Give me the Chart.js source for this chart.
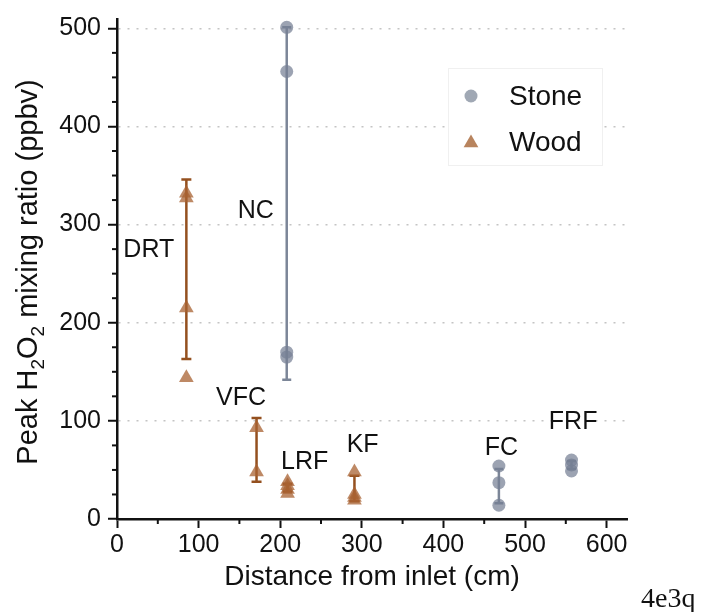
<!DOCTYPE html>
<html><head><meta charset="utf-8">
<script src="https://cdn.jsdelivr.net/npm/chart.js@4.4.1/dist/chart.umd.min.js"></script>
<style>html,body{margin:0;padding:0;background:#fff;} #wrap{position:relative;width:706px;height:612px;}</style>
</head><body><div id="wrap"><canvas id="c"></canvas></div>
<script>
// ---- data ----
const woodSites = ['DRT', 'VFC', 'LRF', 'KF'];
const woodX = [85, 171, 209, 291];
const woodValues = [[332, 327, 215, 144], [93, 48], [38, 34, 30, 26], [48, 25, 22, 19]];
const woodErrLow = [163, 38, 28, 18];
const woodErrHigh = [346, 103, 36, 44];

const stoneSites = ['NC', 'FC', 'FRF'];
const stoneX = [208, 468, 557];
const stoneValues = [[501, 456, 170, 165], [54, 37, 14], [60, 55, 49]];
const stoneErrLow = [142, 16, 51];
const stoneErrHigh = [501, 51, 59];

const labelNames = ['DRT', 'NC', 'VFC', 'LRF', 'KF', 'FC', 'FRF'];
const labelX = [39, 170, 152, 230, 301, 471, 559];
const labelY = [274, 314, 123, 58, 75, 72, 99];

const xTicks = [0, 100, 200, 300, 400, 500, 600];
const yTicks = [0, 100, 200, 300, 400, 500];
const xTitle = 'Distance from inlet (cm)';
const legendNames = ['Stone', 'Wood'];

// ---- styles ----
const FONT = "'Liberation Sans', Arial, sans-serif";
const STONE_FILL = 'rgba(118,128,148,0.72)';
const STONE_LINE = '#7c8698';
const WOOD_FILL = 'rgba(168,98,50,0.75)';
const WOOD_LINE = '#94501f';

function pts(xs, vals) {
  const out = [];
  xs.forEach((x, i) => vals[i].forEach(v => out.push({x: x, y: v})));
  return out;
}
const datasets = [];
woodX.forEach((x, i) => datasets.push({
  label: woodSites[i] + ' err', data: [{x: x, y: woodErrLow[i]}, {x: x, y: woodErrHigh[i]}],
  showLine: true, borderColor: WOOD_LINE, borderWidth: 2.5, pointStyle: 'line',
  pointRadius: 5, pointBorderWidth: 2.5, pointBorderColor: WOOD_LINE, order: 2
}));
stoneX.forEach((x, i) => datasets.push({
  label: stoneSites[i] + ' err', data: [{x: x, y: stoneErrLow[i]}, {x: x, y: stoneErrHigh[i]}],
  showLine: true, borderColor: STONE_LINE, borderWidth: 2.5, pointStyle: 'line',
  pointRadius: 4.5, pointBorderWidth: 2.5, pointBorderColor: STONE_LINE, order: 2
}));
datasets.push({label: 'Stone', data: pts(stoneX, stoneValues), pointStyle: 'circle', pointRadius: 6.5,
  backgroundColor: STONE_FILL, borderWidth: 0, pointBorderWidth: 0, order: 1});
datasets.push({label: 'Wood', data: pts(woodX, woodValues), pointStyle: 'triangle', pointRadius: 8.5,
  backgroundColor: WOOD_FILL, borderWidth: 0, pointBorderWidth: 0, order: 1});

const extras = {
  id: 'extras',
  afterDraw(chart) {
    const ctx = chart.ctx, xs = chart.scales.x, ys = chart.scales.y, ca = chart.chartArea;
    ctx.save();
    // minor ticks
    ctx.strokeStyle = '#111'; ctx.lineWidth = 2;
    for (let v = 50; v <= 550; v += 100) {
      const px = xs.getPixelForValue(v);
      ctx.beginPath(); ctx.moveTo(px, ca.bottom); ctx.lineTo(px, ca.bottom + 5); ctx.stroke();
    }
    for (let v = 25; v <= 500; v += 25) {
      if (v % 100 === 0) continue;
      const py = ys.getPixelForValue(v);
      ctx.beginPath(); ctx.moveTo(ca.left - 5, py); ctx.lineTo(ca.left, py); ctx.stroke();
    }
    // site labels
    ctx.fillStyle = '#111'; ctx.font = '25px ' + FONT; ctx.textAlign = 'center'; ctx.textBaseline = 'middle';
    labelNames.forEach((n, i) => ctx.fillText(n, xs.getPixelForValue(labelX[i]), ys.getPixelForValue(labelY[i])));
    // legend
    ctx.fillStyle = '#fff'; ctx.strokeStyle = '#f0f0f0'; ctx.lineWidth = 1;
    ctx.fillRect(448, 68, 154, 97); ctx.strokeRect(448.5, 68.5, 154, 97);
    ctx.fillStyle = 'rgba(150,158,172,0.9)';
    ctx.beginPath(); ctx.arc(471, 96, 6.5, 0, Math.PI * 2); ctx.fill();
    ctx.fillStyle = 'rgba(180,125,85,0.95)';
    ctx.beginPath();
    const r = 8.5;
    for (let k = 0; k < 3; k++) {
      const a = k * 2 * Math.PI / 3;
      const px = 471 + Math.sin(a) * r, py = 143 - Math.cos(a) * r;
      if (k === 0) ctx.moveTo(px, py); else ctx.lineTo(px, py);
    }
    ctx.closePath(); ctx.fill();
    ctx.fillStyle = '#111'; ctx.font = '28px ' + FONT; ctx.textAlign = 'left'; ctx.textBaseline = 'middle';
    ctx.fillText(legendNames[0], 509, 97);
    ctx.fillText(legendNames[1], 509, 143);
    // y title with subscripts
    ctx.translate(27, 272); ctx.rotate(-Math.PI / 2);
    const parts = [['Peak H', 29, 0], ['2', 19, 7], ['O', 29, 0], ['2', 19, 7], [' mixing ratio (ppbv)', 29, 0]];
    let total = 0;
    parts.forEach(p => { ctx.font = p[1] + 'px ' + FONT; total += ctx.measureText(p[0]).width; });
    let cx = -total / 2;
    ctx.textBaseline = 'alphabetic'; ctx.textAlign = 'left';
    parts.forEach(p => { ctx.font = p[1] + 'px ' + FONT; ctx.fillText(p[0], cx, 10 + p[2]); cx += ctx.measureText(p[0]).width; });
    ctx.restore();
    // corner tag
    ctx.save();
    ctx.fillStyle = '#111'; ctx.font = "28px 'Liberation Serif', 'Times New Roman', serif";
    ctx.textAlign = 'left'; ctx.textBaseline = 'alphabetic';
    ctx.fillText('4e3q', 641, 607);
    ctx.restore();
  }
};

new Chart(document.getElementById('c'), {
  type: 'scatter',
  data: {datasets: datasets},
  options: {
    responsive: true, maintainAspectRatio: false, animation: false, events: [],
    layout: {padding: {top: 18, right: 79, bottom: 15, left: 0}},
    plugins: {legend: {display: false}, tooltip: {enabled: false}},
    scales: {
      x: {
        type: 'linear', min: 0, max: 625,
        afterBuildTicks: s => { s.ticks = xTicks.map(v => ({value: v})); },
        afterFit: s => { s.height = 78; },
        ticks: {font: {family: FONT, size: 25}, color: '#111', padding: 2, maxRotation: 0},
        grid: {drawOnChartArea: false, drawTicks: true, tickLength: 9, tickWidth: 2, tickColor: '#111'},
        border: {color: '#111', width: 2.5},
        title: {display: true, text: xTitle, font: {family: FONT, size: 28}, color: '#111', padding: {top: 0, bottom: 3}}
      },
      y: {
        type: 'linear', min: 0, max: 509,
        afterBuildTicks: s => { s.ticks = yTicks.map(v => ({value: v})); },
        afterFit: s => { s.width = 117; },
        ticks: {font: {family: FONT, size: 25, lineHeight: 1}, color: '#111', padding: 7},
        grid: {color: c => (c.tick && c.tick.value === 0) ? 'rgba(0,0,0,0)' : '#c4c4c4', lineWidth: 1.5,
               drawTicks: true, tickLength: 9, tickWidth: 2, tickColor: '#111'},
        border: {color: '#111', width: 2.5, dash: [2, 7]}
      }
    }
  },
  plugins: [extras]
});
</script>
</body></html>
